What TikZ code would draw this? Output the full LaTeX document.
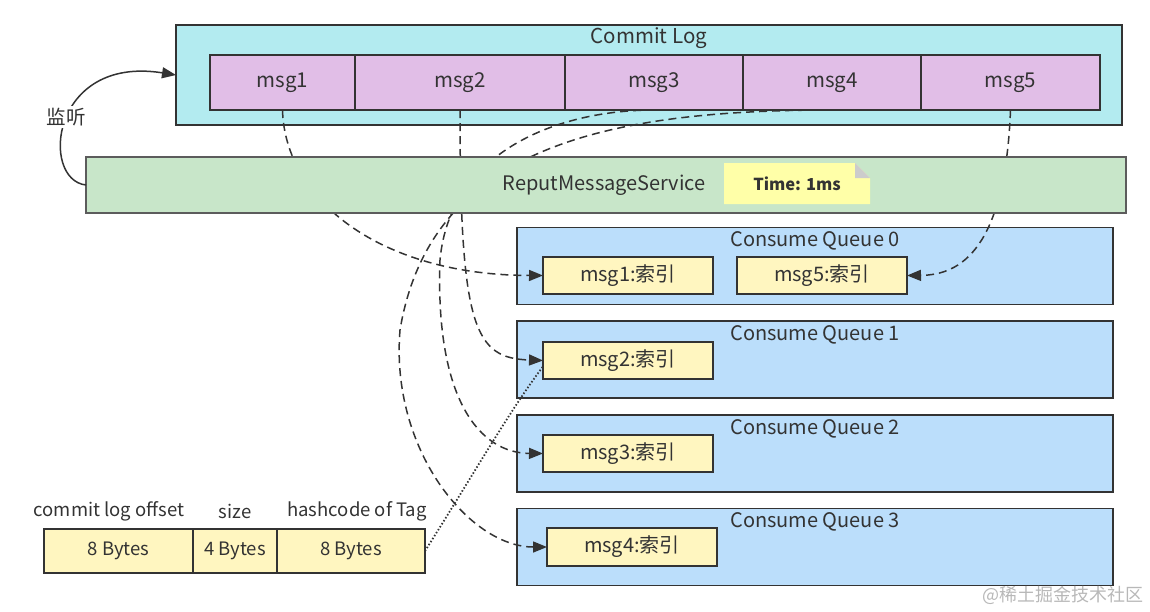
\documentclass[tikz,border=0pt]{standalone}
\usepackage{fontspec}
\setmainfont{Noto Sans CJK SC}
\usetikzlibrary{arrows.meta}
\definecolor{logbg}{HTML}{B3EBF0}
\definecolor{msgbg}{HTML}{E1BEE7}
\definecolor{svcbg}{HTML}{C8E6C9}
\definecolor{queuebg}{HTML}{BBDEFB}
\definecolor{idxbg}{HTML}{FFF6C0}
\definecolor{notebg}{HTML}{FFFFA8}
\definecolor{ink}{HTML}{333333}
\tikzset{
  base/.style={inner sep=0pt, outer sep=0pt, line width=1.5pt, draw=ink, text=ink},
  logbox/.style={base, fill=logbg},
  msgcell/.style={base, fill=msgbg, font=\fontsize{20.5}{22}\selectfont},
  svcbox/.style={base, draw=ink!80, fill=svcbg},
  queuebox/.style={base, fill=queuebg},
  idxbox/.style={base, fill=idxbg, font=\fontsize{20}{22}\selectfont},
  fieldbox/.style={base, fill=idxbg, font=\fontsize{18.5}{20}\selectfont},
  lbl/.style={inner sep=0pt, text=ink, font=\fontsize{20}{22}\selectfont},
  flow/.style={draw=ink, line width=1.5pt, dash pattern=on 8pt off 5pt, -{Triangle[length=14pt,width=11pt]}},
}
\begin{document}
\begin{tikzpicture}[x=1pt,y=-1pt]
\useasboundingbox (0,0) rectangle (1150,611);
% Commit log
\node[logbox, minimum width=946, minimum height=100] (log) at (649,75) {};
\node[lbl, font=\fontsize{20.5}{22}\selectfont] (logtitle) at (649,38) {Commit Log};
\node[msgcell, minimum width=145, minimum height=55] (m1) at (282.5,82.5) {msg1};
\node[msgcell, minimum width=210, minimum height=55] (m2) at (460,82.5) {msg2};
\node[msgcell, minimum width=178, minimum height=55] (m3) at (654,82.5) {msg3};
\node[msgcell, minimum width=178, minimum height=55] (m4) at (832,82.5) {msg4};
\node[msgcell, minimum width=179, minimum height=55] (m5) at (1010.5,82.5) {msg5};
% Consume queues
\foreach \i/\y in {0/266,1/359.5,2/453.5,3/547}{
  \node[queuebox, minimum width=596, minimum height=77] (q\i) at (815,\y) {};
  \node[lbl] (qt\i) at (815,\y-25) {Consume Queue \i};
}
\node[idxbox, minimum width=170, minimum height=37] (i1) at (628,275.5) {msg1:索引};
\node[idxbox, minimum width=170, minimum height=37] (i5) at (822,275.5) {msg5:索引};
\node[idxbox, minimum width=170, minimum height=37] (i2) at (628,360.5) {msg2:索引};
\node[idxbox, minimum width=170, minimum height=37] (i3) at (628,453.5) {msg3:索引};
\node[idxbox, minimum width=170, minimum height=38] (i4) at (632,547) {msg4:索引};
% index entry layout
\node[fieldbox, minimum width=149, minimum height=44] (f1) at (118.5,551) {8 Bytes};
\node[fieldbox, minimum width=84, minimum height=44] (f2) at (235,551) {4 Bytes};
\node[fieldbox, minimum width=148, minimum height=44] (f3) at (351,551) {8 Bytes};
\node[lbl, font=\fontsize{18.5}{20}\selectfont] (h1) at (109,511) {commit log offset};
\node[lbl, font=\fontsize{18.5}{20}\selectfont] (h2) at (235,511) {size};
\node[lbl, font=\fontsize{18.5}{20}\selectfont] (h3) at (357,511) {hashcode of Tag};
% flows
\draw[flow] (m1.south) .. controls (285,200) and (380,275) .. (i1.west);
\draw[flow] (m2.south) .. controls (460,330) and (475,358) .. (i2.west);
\draw[flow] (m3.south) .. controls (560,110) and (450,150) .. (440,260) .. controls (435,400) and (480,453) .. (i3.west);
\draw[flow] (m4.south) .. controls (600,110) and (430,150) .. (400,330) .. controls (390,450) and (470,547) .. (i4.west);
\draw[flow] (m5.south) .. controls (1005,250) and (960,275) .. (i5.east);
\draw[ink, line width=1.8pt, dash pattern=on 1.5pt off 2pt] (f3.east) .. controls (470,480) and (510,410) .. ([yshift=-6pt]i2.west);
% service
\node[svcbox, minimum width=1040, minimum height=56] (svc) at (606,185) {};
\node[lbl] (svctext) at (604,185) {ReputMessageService};
\fill[notebg] (724,163) -- (855,163) -- (870,178) -- (870,204) -- (724,204) -- cycle;
\fill[black!20] (855,163) -- (870,178) -- (855,178) -- cycle;
\node[inner sep=0pt, text=ink, font=\fontsize{16.5}{18}\selectfont\bfseries] (note) at (797,184) {Time: 1ms};
% listen
\draw[ink, line width=1.5pt, -{Triangle[length=14pt,width=11pt]}] (svc.west) .. controls (40,180) and (50,55) .. (log.west);
\node[lbl, fill=white, inner sep=2pt, font=\fontsize{19.5}{21}\selectfont] (listen) at (66,117) {监听};
% watermark
\node[inner sep=0pt, text=black!28, font=\fontsize{18}{20}\selectfont] (wm) at (1063,595) {@稀土掘金技术社区};
\end{tikzpicture}
\end{document}
